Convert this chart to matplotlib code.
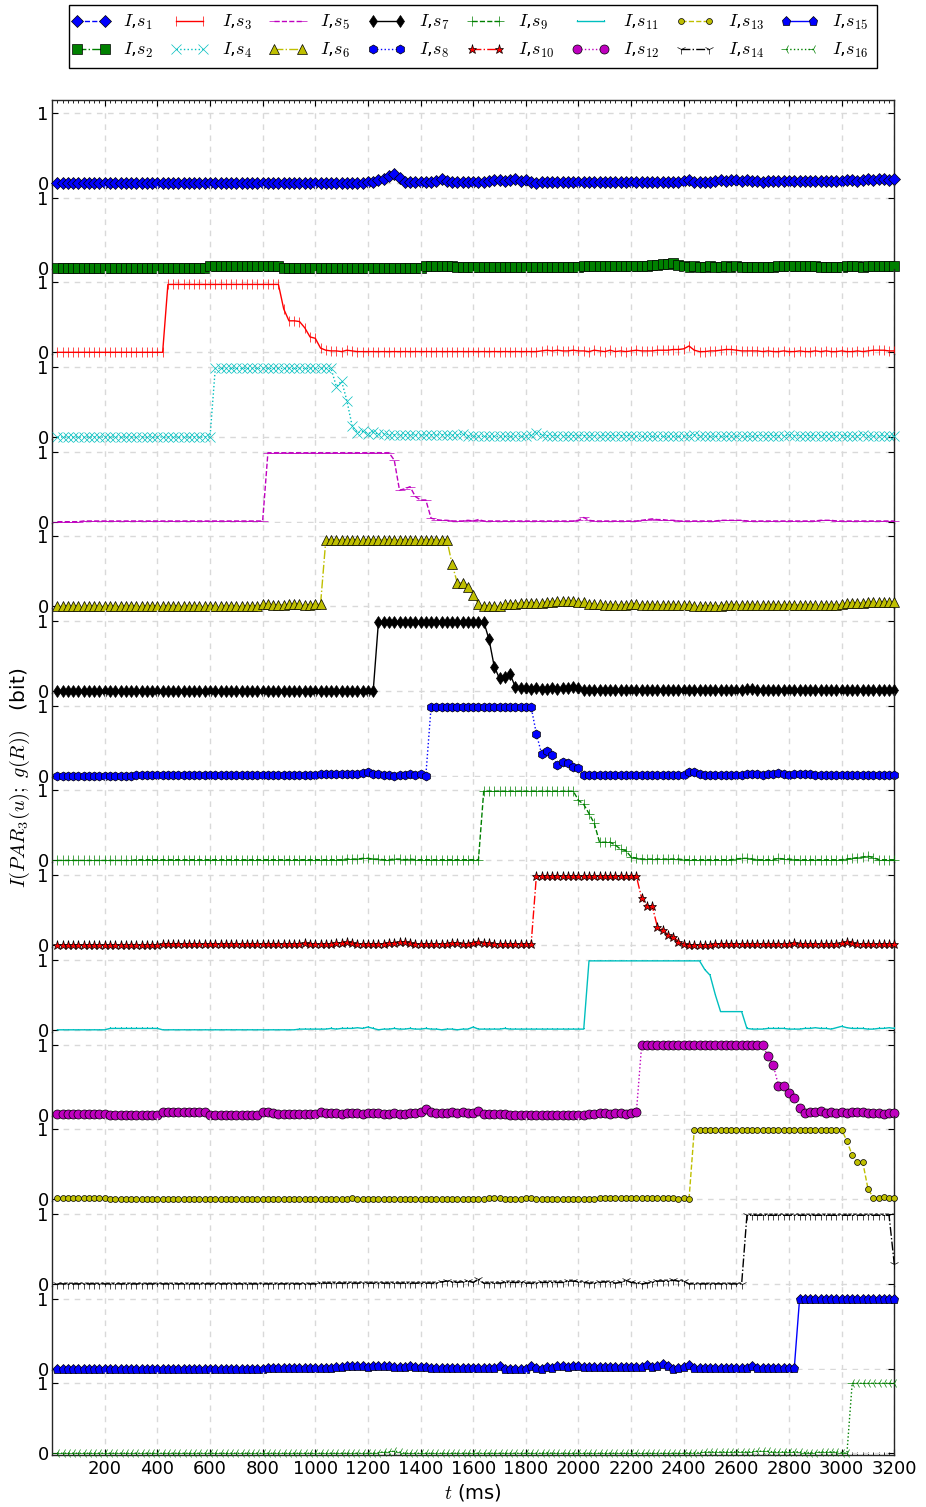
import matplotlib
matplotlib.use("Agg")
import matplotlib.pyplot as plt
from matplotlib.lines import Line2D
from matplotlib.legend_handler import HandlerLine2D
from matplotlib.ticker import MultipleLocator
import numpy as np

plt.rcParams['mathtext.fontset'] = 'cm'
plt.rcParams['font.family'] = 'DejaVu Sans'

# sample times (ms)
T_MS = np.arange(20, 3201, 20)

S1 = ([0.0] * 59
      + [0.01, 0.02, 0.04, 0.06, 0.10, 0.13, 0.07, 0.02]
      + [0.02, 0.02, 0.02, 0.02, 0.01]
      + [0.03, 0.05, 0.03]
      + [0.02, 0.02, 0.02, 0.02, 0.02, 0.02, 0.02, 0.03]
      + [0.04, 0.04, 0.03, 0.04, 0.05, 0.03, 0.04, 0.02]
      + [0.0, 0.02, 0.02, 0.01, 0.02, 0.02, 0.02, 0.02, 0.02]
      + [0.02] * 19
      + [0.03, 0.04, 0.02]
      + [0.01, 0.02, 0.02]
      + [0.03, 0.04, 0.03, 0.04, 0.04, 0.03, 0.04, 0.03, 0.03, 0.02]
      + [0.03] * 13
      + [0.03, 0.03, 0.04, 0.04, 0.03, 0.04, 0.05, 0.04, 0.05, 0.05, 0.04, 0.05])

S2 = ([0.0] * 29
      + [0.02] * 14
      + [0.0] * 27
      + [0.02] * 6
      + [0.01] * 24
      + [0.02] * 12
      + [0.03, 0.04, 0.04, 0.05, 0.05, 0.06, 0.04, 0.03]
      + [0.01, 0.02, 0.01, 0.01, 0.02, 0.01, 0.01, 0.02, 0.01]
      + [0.03]
      + [0.01] * 7
      + [0.03, 0.03, 0.02, 0.03, 0.03, 0.02, 0.03, 0.02]
      + [0.01] * 5
      + [0.02, 0.02, 0.02, 0.01, 0.02, 0.02, 0.03, 0.02, 0.02, 0.03])

S3 = ([0.0] * 21
      + [0.97] * 22
      + [0.62, 0.45, 0.45, 0.44, 0.35, 0.22, 0.20, 0.06, 0.03]
      + [0.02, 0.02, 0.01, 0.03, 0.02]
      + [0.01] * 35
      + [0.02, 0.03, 0.02, 0.03, 0.02, 0.02, 0.03, 0.02, 0.02]
      + [0.01, 0.03, 0.02, 0.01, 0.03, 0.01, 0.02, 0.01, 0.02, 0.03, 0.02, 0.02]
      + [0.02, 0.03, 0.03, 0.03, 0.04, 0.04]
      + [0.05, 0.09, 0.03]
      + [0.01, 0.01, 0.02, 0.02]
      + [0.03, 0.04, 0.04, 0.03, 0.02]
      + [0.02, 0.02, 0.02, 0.01, 0.02, 0.01, 0.01, 0.02, 0.01, 0.01,
         0.02, 0.01, 0.01, 0.02, 0.01, 0.02, 0.01, 0.01, 0.02, 0.01]
      + [0.01, 0.02, 0.01, 0.02, 0.03, 0.03, 0.03, 0.02, 0.02])

S4 = ([0.0] * 30
      + [0.98] * 23
      + [0.72, 0.80, 0.52, 0.16, 0.06, 0.08, 0.05, 0.07, 0.04, 0.05]
      + [0.03] * 14
      + [0.04, 0.02]
      + [0.01] * 11
      + [0.03, 0.06, 0.03]
      + [0.02] * 17 + [0.01] * 10 + [0.02, 0.03, 0.02] + [0.01] * 10
      + [0.02] * 6 + [0.03] + [0.02] * 11
      + [0.01, 0.02, 0.03, 0.02, 0.01, 0.02, 0.02, 0.01, 0.02])

S5 = ([0.0] * 5
      + [0.01] * 34
      + [0.01]
      + [0.985] * 24
      + [0.88, 0.45, 0.47, 0.50, 0.36, 0.31, 0.31, 0.05, 0.03]
      + [0.02, 0.02, 0.01, 0.01, 0.01, 0.02, 0.01]
      + [0.03]
      + [0.01] * 18
      + [0.02, 0.06, 0.02]
      + [0.01] * 9
      + [0.02, 0.03, 0.04, 0.03, 0.03, 0.02, 0.02]
      + [0.01] * 8 + [0.02] * 5 + [0.01] * 14 + [0.02] * 3 + [0.01] * 12)

S6 = ([0.0] * 39
      + [0.03, 0.03, 0.02, 0.02, 0.02, 0.03, 0.03, 0.03, 0.02, 0.02, 0.03, 0.03]
      + [0.95] * 24
      + [0.60, 0.33, 0.34, 0.28, 0.16, 0.04, 0.01, 0.0, 0.0]
      + [0.0, 0.03, 0.04, 0.04, 0.05, 0.05, 0.05, 0.05, 0.05, 0.06,
         0.06, 0.07, 0.07, 0.07, 0.07, 0.06, 0.06, 0.03, 0.03, 0.03]
      + [0.02] * 5 + [0.03] * 2 + [0.02] * 10 + [0.01] * 6 + [0.02] * 21
      + [0.02, 0.03, 0.05, 0.05, 0.05, 0.05, 0.06, 0.06, 0.06, 0.06, 0.06, 0.06])

S7 = ([0.0] * 61
      + [0.99] * 21
      + [0.74, 0.35, 0.18, 0.20, 0.24, 0.06, 0.04]
      + [0.04, 0.03, 0.04, 0.03, 0.03, 0.04, 0.03, 0.04, 0.05]
      + [0.06, 0.05]
      + [0.01] * 30 + [0.02, 0.03, 0.03, 0.02] + [0.01] * 26)

S8 = ([0.0] * 15
      + [0.01] * 35
      + [0.02, 0.02, 0.03, 0.03, 0.03, 0.03, 0.02, 0.03, 0.04, 0.05]
      + [0.02, 0.02, 0.01, 0.01, 0.0, 0.01, 0.01, 0.02, 0.01, 0.02, 0.0]
      + [0.985] * 20
      + [0.60, 0.31, 0.36, 0.29, 0.15, 0.19, 0.18, 0.12, 0.11]
      + [0.01] * 20 + [0.05, 0.06, 0.03] + [0.01] * 8 + [0.02, 0.03, 0.02]
      + [0.01, 0.02, 0.03, 0.04, 0.02, 0.01, 0.02, 0.03, 0.03, 0.02]
      + [0.01] * 16)

S9 = ([0.0] * 15
      + [0.01] * 40
      + [0.02, 0.02, 0.02, 0.03, 0.03, 0.02, 0.02, 0.01, 0.01, 0.02, 0.02, 0.01, 0.02, 0.01, 0.01]
      + [0.01] * 11
      + [0.99] * 18
      + [0.86, 0.80, 0.67, 0.53, 0.26, 0.26, 0.26, 0.22, 0.16, 0.14, 0.05, 0.03]
      + [0.02] * 8 + [0.01] * 10 + [0.02, 0.03, 0.03, 0.02] + [0.01] * 4
      + [0.03, 0.02, 0.02] + [0.01] * 10 + [0.02, 0.03, 0.04, 0.05, 0.06, 0.04]
      + [0.01] * 4)

S10 = ([0.0] * 20
       + [0.01] * 5 + [0.02, 0.02, 0.01] + [0.01] * 8 + [0.02] * 5 + [0.01] * 5
       + [0.02, 0.03, 0.02] + [0.01] * 3 + [0.02, 0.03, 0.03, 0.04, 0.03, 0.01]
       + [0.01] * 4 + [0.02, 0.03, 0.03, 0.04, 0.04, 0.03] + [0.01] * 5
       + [0.02, 0.02, 0.03, 0.03, 0.02] + [0.02, 0.03, 0.04, 0.03, 0.03] + [0.01] * 7
       + [0.01]
       + [0.985] * 20
       + [0.67, 0.56, 0.56, 0.26, 0.22, 0.14, 0.12, 0.05, 0.02]
       + [0.0] * 5 + [0.02] * 5 + [0.01] * 10 + [0.03, 0.02] + [0.01] * 7
       + [0.03, 0.05, 0.03] + [0.01] * 8)

S11 = ([0.0] * 10
       + [0.02] * 10
       + [0.0] * 26
       + [0.01] * 6
       + [0.02]
       + [0.01, 0.02, 0.02]
       + [0.02, 0.03, 0.02]
       + [0.04, 0.02, 0.0]
       + [0.01, 0.01, 0.02, 0.01, 0.01, 0.02, 0.01, 0.01]
       + [0.02, 0.01]
       + [0.01, 0.0, 0.01, 0.01, 0.0, 0.01]
       + [0.01, 0.04, 0.01]
       + [0.01] * 4 + [0.02] + [0.01] * 15
       + [0.985] * 22
       + [0.86, 0.78, 0.50, 0.26, 0.26, 0.26, 0.26, 0.26, 0.02]
       + [0.01] * 3 + [0.02] * 4 + [0.01] * 3 + [0.02, 0.02, 0.03, 0.02]
       + [0.02, 0.01] + [0.03, 0.05, 0.03] + [0.02] * 3
       + [0.01, 0.01, 0.02, 0.02, 0.03, 0.02])

S12 = ([0.01] * 10 + [0.0] * 10
       + [0.04] * 9
       + [0.0] * 10
       + [0.03, 0.03, 0.02]
       + [0.01] * 8
       + [0.03]
       + [0.02, 0.02, 0.02, 0.01, 0.02]
       + [0.02, 0.02, 0.01, 0.02, 0.02, 0.02, 0.01, 0.01, 0.02, 0.01, 0.01, 0.02, 0.02]
       + [0.03, 0.08, 0.03]
       + [0.02, 0.02, 0.02, 0.03, 0.02, 0.03]
       + [0.02, 0.02, 0.05]
       + [0.01] * 5 + [0.0] * 15
       + [0.01, 0.01, 0.02, 0.02, 0.01, 0.02, 0.02, 0.01, 0.02, 0.03]
       + [0.99] * 24
       + [0.83, 0.71, 0.41, 0.41, 0.31, 0.23, 0.09, 0.02, 0.04, 0.04, 0.05]
       + [0.02, 0.04, 0.02, 0.03, 0.02, 0.03, 0.03, 0.04, 0.02, 0.02, 0.02, 0.01, 0.02, 0.02])

S13 = ([0.01] * 10
       + [0.0] * 46
       + [0.02]
       + [0.0] * 25
       + [0.01, 0.02, 0.01]
       + [0.0] * 4
       + [0.02, 0.01]
       + [0.0] * 12
       + [0.01, 0.02, 0.02, 0.01]
       + [0.01] * 9
       + [0.02]
       + [0.01, 0.0, 0.01, 0.0]
       + [0.995] * 29
       + [0.83, 0.63, 0.53, 0.53, 0.15, 0.02, 0.02, 0.03, 0.02, 0.02])

S14 = ([0.0] * 50
       + [0.01] * 23
       + [0.03, 0.04, 0.03, 0.02, 0.03, 0.04, 0.02]
       + [0.07]
       + [0.01] * 4 + [0.02] * 4 + [0.01] * 3 + [0.02] * 5
       + [0.04, 0.04, 0.03]
       + [0.02, 0.01, 0.01, 0.02, 0.03, 0.02, 0.01, 0.02, 0.05, 0.02]
       + [0.01, 0.0, 0.01, 0.02, 0.04]
       + [0.04, 0.04, 0.05, 0.04, 0.04]
       + [0.0] * 11
       + [0.98] * 28
       + [0.28])

S15 = ([0.0] * 40
       + [0.01] * 13
       + [0.02, 0.02, 0.03, 0.03, 0.03, 0.03, 0.02, 0.03, 0.03,
          0.03, 0.03, 0.02, 0.02, 0.02, 0.03, 0.02, 0.02, 0.02]
       + [0.01] * 13
       + [0.03]
       + [0.0] * 5
       + [0.03]
       + [0.01, 0.0, 0.02, 0.01]
       + [0.03, 0.03, 0.02, 0.03, 0.03, 0.02]
       + [0.02] * 11
       + [0.05, 0.02, 0.04, 0.07, 0.03, 0.0, 0.01, 0.02]
       + [0.05]
       + [0.01] * 11
       + [0.03]
       + [0.01] * 8
       + [0.99] * 19)

S16 = ([0.0] * 61
       + [0.01, 0.02, 0.02, 0.03, 0.02]
       + [0.0] * 27
       + [0.01]
       + [0.0] * 26
       + [0.01] * 3 + [0.02] * 10 + [0.03] * 3 + [0.02] * 6 + [0.01] * 3
       + [0.02] * 4 + [0.01, 0.0]
       + [1.0] * 9)

SERIES = [S1, S2, S3, S4, S5, S6, S7, S8, S9, S10, S11, S12, S13, S14, S15, S16]
LABELS = [r'$I$,$s_{%d}$' % (i + 1) for i in range(16)]
COLORS = ['b', 'g', 'r', 'c', 'm', 'y', 'k', 'b', 'g', 'r', 'c', 'm', 'y', 'k', 'b', 'g']
LINESTYLES = ['--', '-.', '-', ':'] * 4
MARKERS = ['D', 's', '|', 'x', '_', '^', 'd', 'h', '+', '*', ',', 'o', '.', '1', 'p', '3']
FILLED = set('Dsdh^*op.')
SIZES = {'D': 6, '.': 8.5}

W, H = 926, 1507
TOP, BOTTOM = 1 - 100 / H, 1 - 1455 / H
fig, axes = plt.subplots(16, 1, sharex=True, figsize=(W / 100, H / 100), dpi=100)
fig.subplots_adjust(left=52.1 / W, right=894.3 / W, top=TOP, bottom=BOTTOM, hspace=0)

handles = []
for i, (ax, values) in enumerate(zip(axes, SERIES)):
    marker = MARKERS[i]
    edge = 'k' if marker in FILLED else COLORS[i]
    line, = ax.plot(T_MS, values, color=COLORS[i], linestyle=LINESTYLES[i], lw=1.0,
                    marker=marker, markersize=SIZES.get(marker, 6.5), markeredgewidth=0.5,
                    markeredgecolor=edge, clip_on=False, label=LABELS[i], zorder=3)
    handles.append(line)

    ax.set_xlim(0, 3200)
    ax.set_ylim(-0.025, 1.185)
    ax.set_yticks([0, 1])
    ax.set_xticks(range(200, 3201, 200))
    ax.xaxis.set_minor_locator(MultipleLocator(20))
    ax.grid(True, which='major', color='0.85', linestyle='--', lw=1.0, dashes=(4, 4))
    ax.set_axisbelow(True)
    ax.patch.set_visible(False)

    for side in ('left', 'right', 'top', 'bottom'):
        ax.spines[side].set_color('0.15')
        ax.spines[side].set_linewidth(1.0)
    ax.spines['top'].set_visible(i == 0)
    ax.spines['bottom'].set_visible(i == 15)

    ax.tick_params(axis='y', direction='in', left=True, right=True, length=4,
                   labelsize=13, pad=2.5)
    ax.tick_params(axis='x', which='both', direction='in', top=(i == 0), bottom=(i == 15),
                   labelbottom=(i == 15), labelsize=13)
    ax.tick_params(axis='x', which='major', length=4)
    ax.tick_params(axis='x', which='minor', length=2.5)

axes[-1].set_xlabel(r'$t$ (ms)', fontsize=14, labelpad=3)

fig.text(20 / W, 0.5 * (TOP + BOTTOM), r'$I(PAR_3(u);\ g(R))$   (bit)', rotation=90,
         ha='center', va='center', fontsize=14.5)

leg = fig.legend(handles, LABELS, loc='upper center', bbox_to_anchor=(473 / W, 1 - 5 / H),
                 ncol=8, numpoints=2, fancybox=False, edgecolor='k', framealpha=1,
                 fontsize=13, handlelength=1.5, handletextpad=1.05, columnspacing=1.25,
                 borderpad=0.45, labelspacing=0.5, borderaxespad=0,
                 handler_map={Line2D: HandlerLine2D(marker_pad=0)})
leg.get_frame().set_linewidth(1.0)

fig.savefig('out.png', dpi=100)
